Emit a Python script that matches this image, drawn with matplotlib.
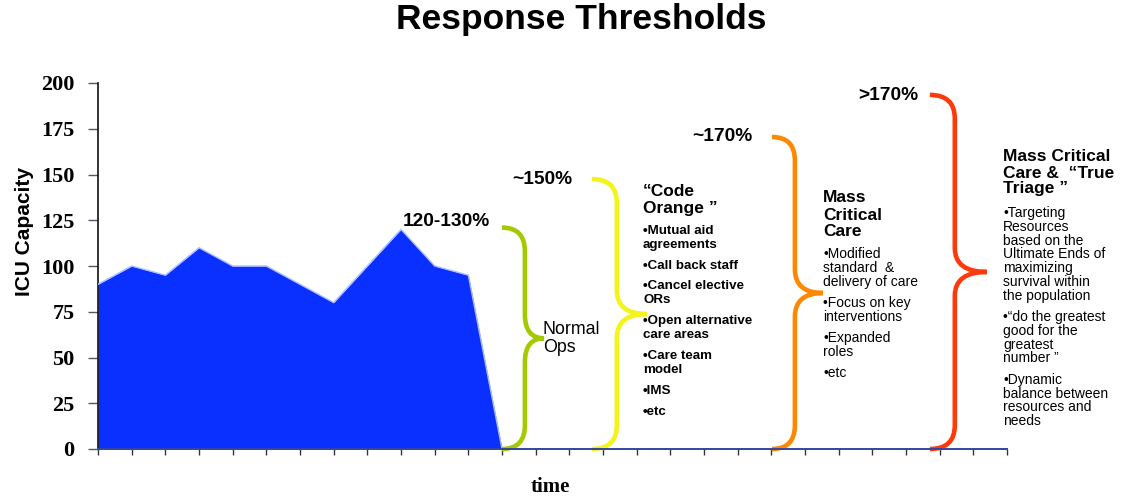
"""Response thresholds: ICU capacity area chart with escalation braces."""
import numpy as np
import matplotlib as mpl; mpl.use("Agg")
import matplotlib.pyplot as plt
from matplotlib.path import Path
from matplotlib.patches import PathPatch

W, H = 1128, 497
SANS = "Liberation Sans"; SERIF = "Liberation Serif"

capacity = [90, 100, 95, 110, 100, 100, 90, 80, 100, 120, 100, 95, 0]
n_slots = 27
yticks = list(range(0, 201, 25))
thresholds = ["120-130%", "~150%", "~170%", ">170%"]
brace_top = [121, 147.5, 170.5, 193.5]
brace_x = [(12.0, 12.68, 13.25), (14.67, 15.41, 16.3), (20.02, 20.7, 21.53), (24.71, 25.45, 26.4)]
brace_col = ["#a3c900", "#f4f41c", "#ff8800", "#ff3a0a"]

TB, BB, BR = 12.5, 9.6, 10.0   # title / bold bullet / regular bullet sizes
code_orange = [("“Code", "bold", TB), ("Orange ”", "bold", TB),
               ("•Mutual aid", "bold", BB), ("agreements", "bold", BB),
               ("•Call back staff", "bold", BB),
               ("•Cancel elective", "bold", BB), ("ORs", "bold", BB),
               ("•Open alternative", "bold", BB), ("care areas", "bold", BB),
               ("•Care team", "bold", BB), ("model", "bold", BB),
               ("•IMS", "bold", BB), ("•etc", "bold", BB)]
code_orange_y = [192, 208, 231, 245, 266, 286, 300, 321, 335, 356, 370, 391, 412]

mass_cc = [("Mass", "bold", TB), ("Critical", "bold", TB), ("Care", "bold", TB),
           ("•Modified", "normal", BR), ("standard  &", "normal", BR), ("delivery of care", "normal", BR),
           ("•Focus on key", "normal", BR), ("interventions", "normal", BR),
           ("•Expanded", "normal", BR), ("roles", "normal", BR), ("•etc", "normal", BR)]
mass_cc_y = [198, 215, 231, 254, 268, 282, 303, 317, 338, 352, 373]

triage = [("Mass Critical", "bold", TB), ("Care &  “True", "bold", TB), ("Triage ”", "bold", TB),
          ("•Targeting", "normal", BR), ("Resources", "normal", BR), ("based on the", "normal", BR),
          ("Ultimate Ends of", "normal", BR), ("maximizing", "normal", BR),
          ("survival within", "normal", BR), ("the population", "normal", BR),
          ("•“do the greatest", "normal", BR), ("good for the", "normal", BR),
          ("greatest", "normal", BR), ("number ”", "normal", BR),
          ("•Dynamic", "normal", BR), ("balance between", "normal", BR),
          ("resources and", "normal", BR), ("needs", "normal", BR)]
triage_y = [156, 173, 189, 213, 227, 241, 254, 268, 282, 296, 317, 331, 345, 358, 380, 394, 407, 421]

fig = plt.figure(figsize=(W / 100, H / 100), dpi=100)
ax = fig.add_axes([98 / W, 1 - 449 / H, 909 / W, 366 / H])

def ftext(px, py, s, **kw):
    kw.setdefault("family", SANS)
    fig.text(px / W, 1 - py / H, s, ha=kw.pop("ha", "left"), va=kw.pop("va", "center"), **kw)

x = np.arange(len(capacity))
ax.fill_between(x, capacity, 0, color="#0a30ff", lw=0, zorder=2)
ax.plot(x, capacity, color="#a9bbff", lw=1.0, zorder=3)

def brace(x0, xs, xt, top, col, r=13):
    ym = top / 2
    verts = [(x0, top), (xs, top), (xs, top - r), (xs, ym + r), (xs, ym), (xt, ym),
             (xs, ym), (xs, ym - r), (xs, r), (xs, 0), (x0, 0)]
    codes = [Path.MOVETO, Path.CURVE3, Path.CURVE3, Path.LINETO, Path.CURVE3, Path.CURVE3,
             Path.CURVE3, Path.CURVE3, Path.LINETO, Path.CURVE3, Path.CURVE3]
    ax.add_patch(PathPatch(Path(verts, codes), fc="none", ec=col, lw=3.3,
                           capstyle="butt", joinstyle="miter", clip_on=False, zorder=4))

for (x0, xs, xt), top, col in zip(brace_x, brace_top, brace_col):
    brace(x0, xs, xt, top, col)

ax.set_xlim(0, n_slots); ax.set_ylim(0, 200)
ax.set_xticks(np.arange(n_slots + 1)); ax.set_xticklabels([])
ax.set_yticks(yticks)
ax.set_yticklabels([str(v) for v in yticks], fontweight="bold", family=SERIF, fontsize=16)
ax.tick_params(axis="y", length=7, width=1, pad=10, color="#555566", direction="out")
ax.tick_params(axis="x", length=4, width=1, color="#333344", direction="out")
for s in ("top", "right"):
    ax.spines[s].set_visible(False)
ax.spines["left"].set_color("#111111"); ax.spines["left"].set_linewidth(1.2)
ax.spines["bottom"].set_color("#3445a0"); ax.spines["bottom"].set_linewidth(1.4)
ax.spines["bottom"].set_zorder(5)

ftext(581, 19, "Response Thresholds", ha="center", fontsize=25.5, fontweight="bold")
ftext(550, 487, "time", ha="center", family=SERIF, fontsize=15, fontweight="bold")
ftext(24, 232, "ICU Capacity", ha="center", rotation=90, fontsize=15, fontweight="bold")

for (px, py), lab in zip([(403, 221), (512, 180), (692, 137), (858, 96)], thresholds):
    ftext(px, py, lab, fontsize=13.8, fontweight="bold")

ftext(543, 330, "Normal", fontsize=12.8)
ftext(543, 348, "Ops", fontsize=12.8)

for px, lines, ys in [(643, code_orange, code_orange_y), (823, mass_cc, mass_cc_y), (1003, triage, triage_y)]:
    for (s, wt, fs), py in zip(lines, ys):
        ftext(px, py, s, fontsize=fs, fontweight=wt)

fig.savefig("out.png", dpi=100)
